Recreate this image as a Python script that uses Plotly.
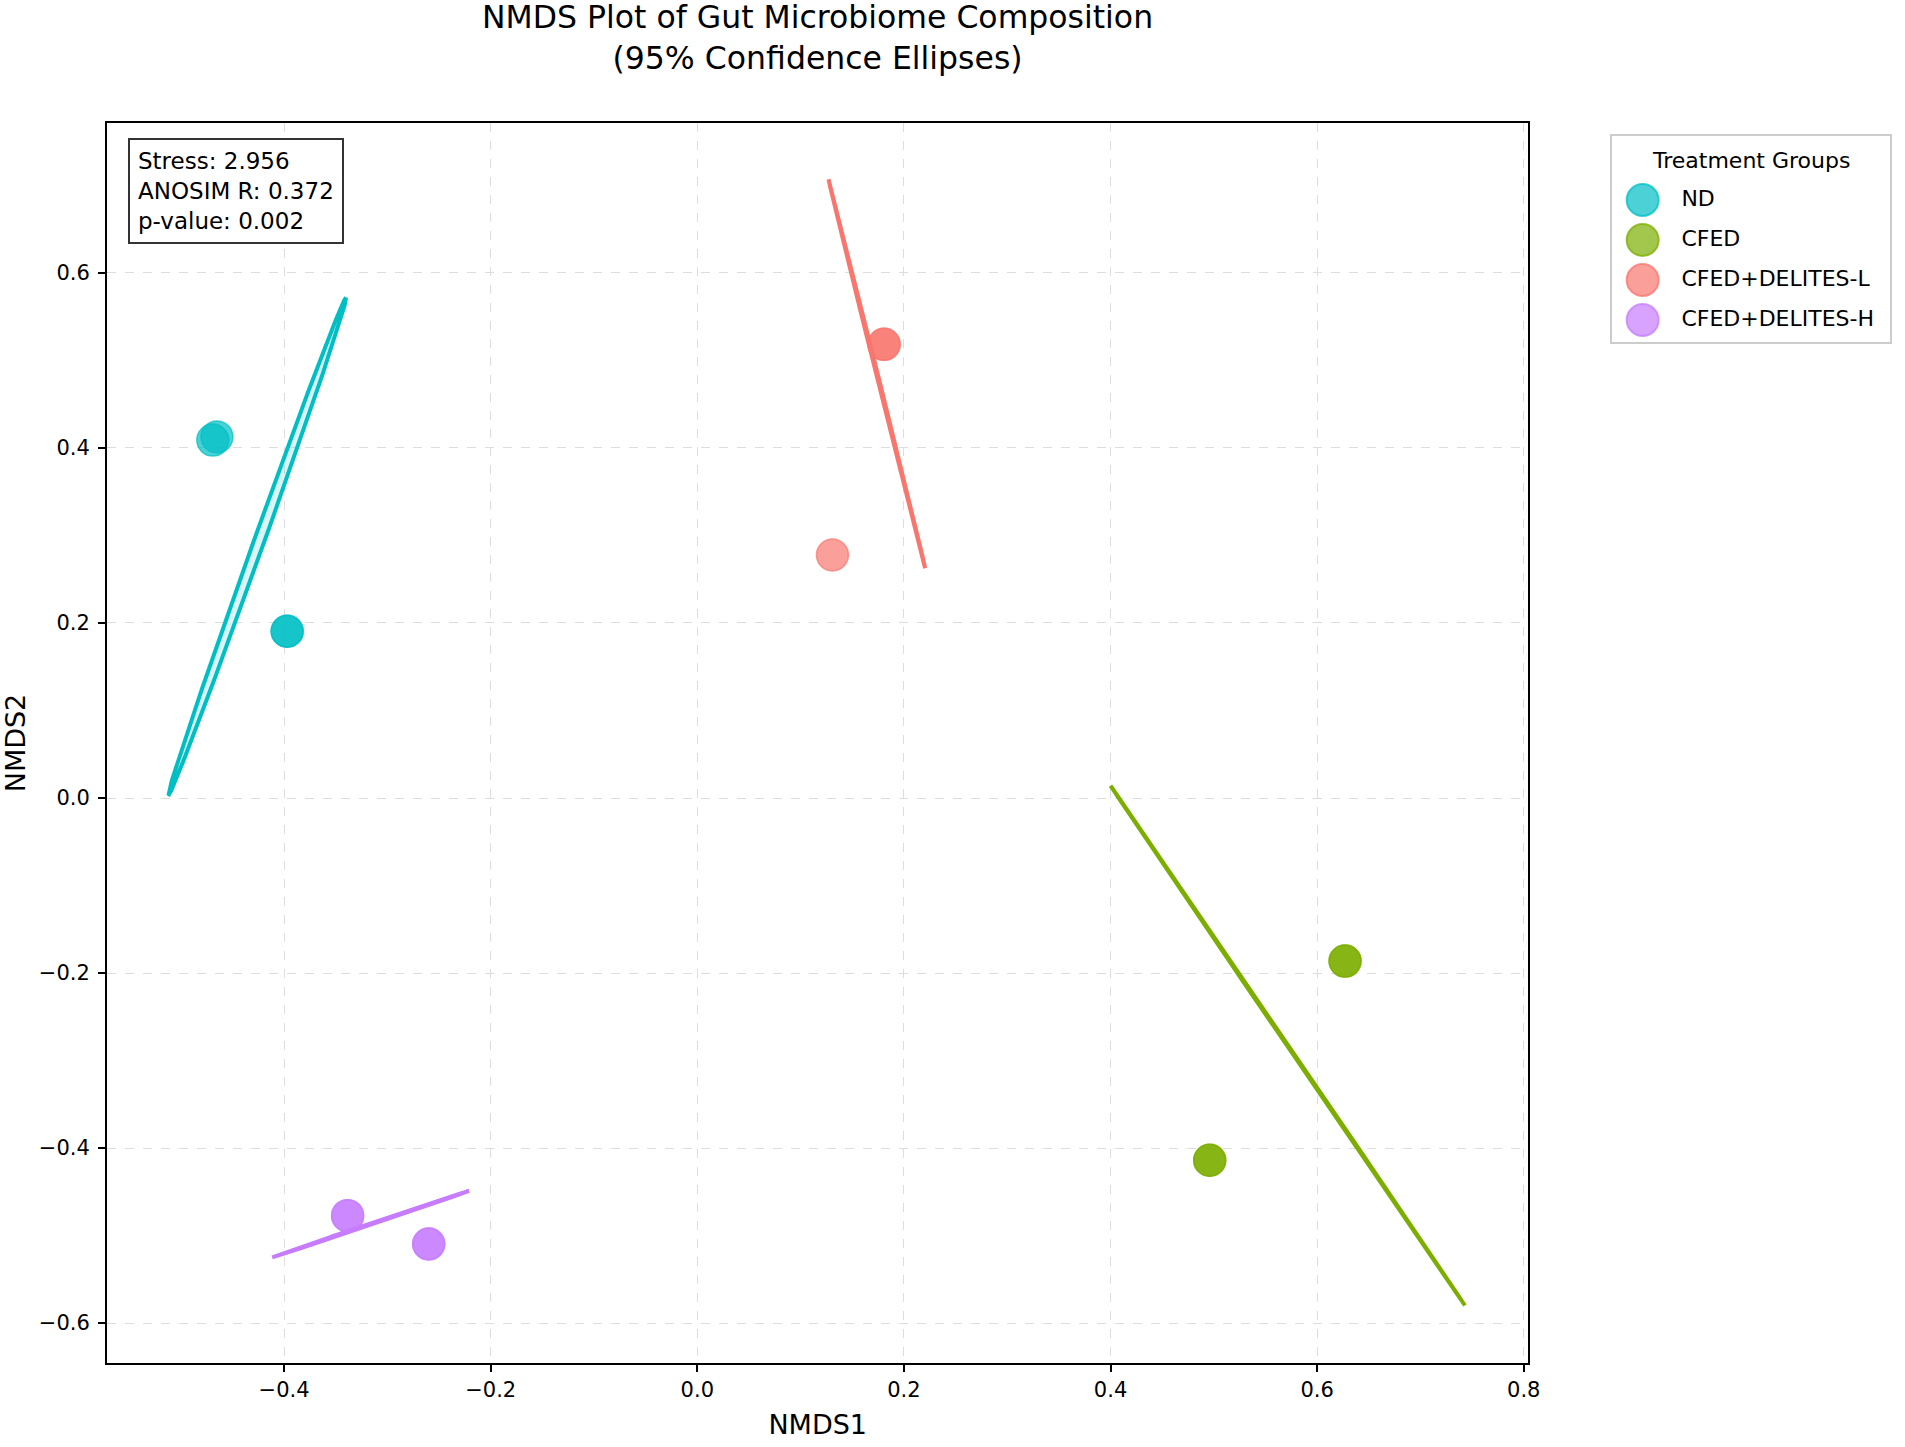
import numpy as np
import plotly.graph_objects as go

# ---------------- data ----------------
groups = ["ND", "CFED", "CFED+DELITES-L", "CFED+DELITES-H"]
colors_rgb = [(0, 191, 196), (124, 174, 0), (248, 118, 109), (199, 124, 255)]

# sample scores (duplicates are overlapping samples)
nd_x = [-0.465, -0.469, -0.397, -0.397]
nd_y = [0.4126, 0.409, 0.1906, 0.1906]
cfed_x = [0.627, 0.627, 0.496, 0.496]
cfed_y = [-0.1864, -0.1864, -0.414, -0.414]
dl_x = [0.1808, 0.1808, 0.1308]
dl_y = [0.5185, 0.5185, 0.2777]
dh_x = [-0.3385, -0.3385, -0.260, -0.260]
dh_y = [-0.4773, -0.4773, -0.5097, -0.5097]

# 95% confidence ellipses: centre, half major-axis vector, minor semi-axis
ell_cx = [-0.426, 0.5715, 0.1738, -0.3162]
ell_cy = [0.2875, -0.283, 0.4848, -0.487]
ell_hx = [0.086, -0.1715, -0.0468, 0.0953]
ell_hy = [0.2845, 0.297, 0.2222, 0.038]
ell_minor = [0.005, 0.0008, 0.0008, 0.0008]

stats_text = ["Stress: 2.956", "ANOSIM R: 0.372", "p-value: 0.002"]
x_ticks = [-0.4, -0.2, 0.0, 0.2, 0.4, 0.6, 0.8]
y_ticks = [-0.6, -0.4, -0.2, 0.0, 0.2, 0.4, 0.6]

pts_x = [nd_x, cfed_x, dl_x, dh_x]
pts_y = [nd_y, cfed_y, dl_y, dh_y]

FONT = "DejaVu Sans"
W, H = 1905, 1447
ML, MR, MT, MB = 107, 3, 123, 84
PLOT_W = 1431
PAPER_W = W - ML - MR
PAPER_H = H - MT - MB

fig = go.Figure()


def rgba(c, a):
    return "rgba(%d,%d,%d,%.2f)" % (c[0], c[1], c[2], a)


def fmt(v):
    return "%.1f" % v if v >= 0 else "\u2212%.1f" % -v


# points
for g, c, xs, ys in zip(groups, colors_rgb, pts_x, pts_y):
    fig.add_trace(go.Scatter(
        x=xs, y=ys, mode="markers", name=g,
        marker=dict(size=32, color=rgba(c, 0.7),
                    line=dict(color=rgba(c, 0.7), width=1.5)),
        showlegend=False, xaxis="x", yaxis="y",
    ))

# ellipses
t = np.linspace(0, 2 * np.pi, 240)
for i, c in enumerate(colors_rgb):
    hx, hy = ell_hx[i], ell_hy[i]
    L = np.hypot(hx, hy)
    nx, ny = -hy / L, hx / L
    b = ell_minor[i]
    ex = ell_cx[i] + np.cos(t) * hx + np.sin(t) * b * nx
    ey = ell_cy[i] + np.cos(t) * hy + np.sin(t) * b * ny
    fig.add_trace(go.Scatter(
        x=ex, y=ey, mode="lines", fill="toself",
        fillcolor=rgba(c, 0.15),
        line=dict(color=rgba(c, 1.0), width=4),
        showlegend=False, hoverinfo="skip", xaxis="x", yaxis="y",
    ))

# custom legend (own small axes to the right of the plot)
idx = list(range(len(groups)))
fig.add_trace(go.Scatter(
    x=[31] * len(groups), y=idx, mode="markers",
    marker=dict(size=32, color=[rgba(c, 0.7) for c in colors_rgb],
                line=dict(color=[rgba(c, 0.75) for c in colors_rgb], width=2)),
    showlegend=False, hoverinfo="skip", xaxis="x2", yaxis="y2",
))
fig.add_trace(go.Scatter(
    x=[70] * len(groups), y=idx, mode="text", text=groups,
    textposition="middle right",
    textfont=dict(family=FONT, size=22, color="black"),
    showlegend=False, hoverinfo="skip", xaxis="x2", yaxis="y2",
))
fig.add_annotation(
    xref="x2 domain", yref="y2", x=0.5, y=-1.0, xanchor="center", yanchor="middle",
    text="Treatment Groups", showarrow=False,
    font=dict(family=FONT, size=22, color="black"),
)

# stats box
fig.add_annotation(
    xref="x domain", yref="y domain", x=(128 - ML) / PLOT_W, y=(1363 - 138) / PAPER_H,
    xanchor="left", yanchor="top", align="left",
    text="<br>".join(stats_text), showarrow=False,
    font=dict(family=FONT, size=23, color="black"),
    bordercolor="#333333", borderwidth=2, borderpad=8, bgcolor="white",
)

# title
fig.add_annotation(
    xref="x domain", yref="y domain", x=0.5, y=(1363 - 37.5) / PAPER_H,
    xanchor="center", yanchor="middle", align="center",
    text="NMDS Plot of Gut Microbiome Composition<br>(95% Confidence Ellipses)",
    showarrow=False, font=dict(family=FONT, size=31.5, color="black"),
)

axis_common = dict(
    showline=True, linecolor="black", linewidth=2, mirror=True,
    ticks="outside", ticklen=7, tickwidth=1.5, tickcolor="black",
    showgrid=True, gridcolor="#dddddd", gridwidth=1.3, griddash="dash",
    zeroline=False,
    tickfont=dict(family=FONT, size=21, color="black"),
)

fig.update_layout(
    xaxis=dict(domain=[0, PLOT_W / PAPER_W], range=[-0.5714, 0.8045],
               tickvals=x_ticks, ticktext=[fmt(v) for v in x_ticks],
               ticklabelstandoff=0,
               title=dict(text="NMDS1", font=dict(family=FONT, size=27, color="black"), standoff=14),
               **axis_common),
    yaxis=dict(range=[-0.6457, 0.7714], tickvals=y_ticks, ticktext=[fmt(v) for v in y_ticks],
               ticklabelstandoff=4,
               title=dict(text="NMDS2", font=dict(family=FONT, size=27, color="black"), standoff=8),
               **axis_common),
    xaxis2=dict(domain=[(1622 - ML) / PAPER_W, (1902 - ML) / PAPER_W], range=[0, 280],
                anchor="y2", showline=True, mirror=True, linecolor="#cccccc", linewidth=1.5,
                showgrid=False, zeroline=False, showticklabels=False, ticks="", fixedrange=True),
    yaxis2=dict(domain=[(1363 - 342) / PAPER_H, (1363 - 136) / PAPER_H], range=[3.55, -1.6],
                anchor="x2", showline=True, mirror=True, linecolor="#cccccc", linewidth=1.5,
                showgrid=False, zeroline=False, showticklabels=False, ticks="", fixedrange=True),
    width=W, height=H,
    margin=dict(l=ML, r=MR, t=MT, b=MB),
    paper_bgcolor="white", plot_bgcolor="white",
    font=dict(family=FONT, color="black"),
    showlegend=False,
)

fig.write_html(
    "out.html",
    config={"displayModeBar": False},
    post_script=("document.documentElement.style.margin='0';"
                 "document.body.style.margin='0';"
                 "document.body.style.overflow='hidden';"
                 "document.documentElement.style.overflow='hidden';"),
)
